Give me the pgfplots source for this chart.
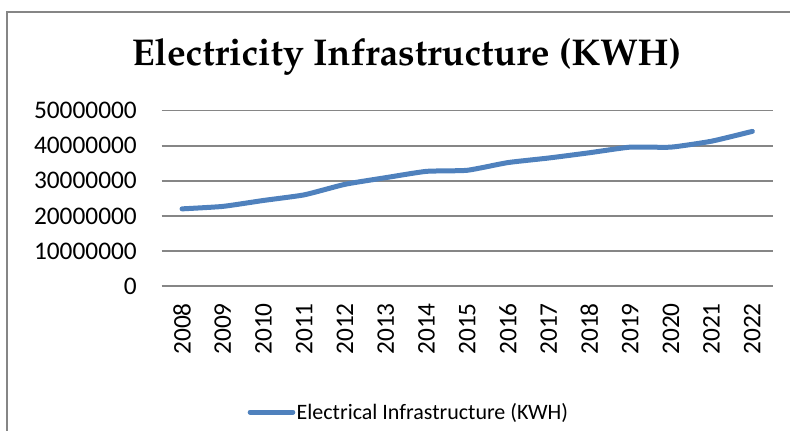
\documentclass[border=0pt]{standalone}
\usepackage[T1]{fontenc}
\usepackage{pgfplots}
\pgfplotsset{compat=1.18}
\usepackage{fontspec}
\setmainfont{Carlito}
\definecolor{gridgray}{RGB}{134,134,134}
\definecolor{lineblue}{RGB}{79,129,189}
\begin{document}
\begin{tikzpicture}[x=0.75pt,y=0.75pt]
\clip (0,0) rectangle (790,430);
\draw[gridgray, line width=1.3pt] (7.3,-20) -- (7.3,418.3) -- (810,418.3);
\node at (406.5,373) {\fontencoding{T1}\fontfamily{ppl}\fontseries{b}\fontsize{28}{30}\selectfont Electricity Infrastructure (KWH)};
\begin{axis}[
  at={(121.275pt,108pt)}, anchor=south west,
  scale only axis, width=458.25pt, height=131.5pt,
  xmin=-0.5, xmax=14.5, ymin=0, ymax=50000000,
  scaled y ticks=false,
  xtick={0,1,2,3,4,5,6,7,8,9,10,11,12,13,14},
  xticklabels={2008,2009,2010,2011,2012,2013,2014,2015,2016,2017,2018,2019,2020,2021,2022},
  ytick={0,10000000,20000000,30000000,40000000,50000000},
  yticklabels={0,10000000,20000000,30000000,40000000,50000000},
  ymajorgrids, grid style={gridgray, line width=1.2pt},
  axis line style={draw=none}, major tick length=0pt, tick style={draw=none},
  xticklabel style={rotate=90, anchor=east, inner sep=0pt, font=\fontsize{19}{19}\selectfont},
  xticklabel shift=12.75pt,
  yticklabel style={anchor=east, inner sep=0pt, font=\fontsize{19}{19}\selectfont},
  yticklabel shift=18.5pt,
  legend style={at={(0.404,-0.719)}, anchor=center, draw=none, fill=none,
    font=\fontsize{16.5}{16.5}\selectfont, inner sep=0pt, nodes={inner sep=1pt}},
  legend image code/.code={\draw[#1, line width=3.75pt, line cap=round] (0pt,0pt) -- (32pt,0pt);},
]
\addplot[lineblue, line width=3.75pt, line cap=round, line join=round, smooth, tension=0.3] coordinates {
(0,22000000) (1,22700000) (2,24400000) (3,26000000) (4,29000000)
(5,30900000) (6,32700000) (7,33000000) (8,35200000) (9,36500000)
(10,38000000) (11,39600000) (12,39600000) (13,41300000) (14,44100000)
};
\addlegendentry{Electrical Infrastructure (KWH)}
\end{axis}
\end{tikzpicture}
\end{document}
